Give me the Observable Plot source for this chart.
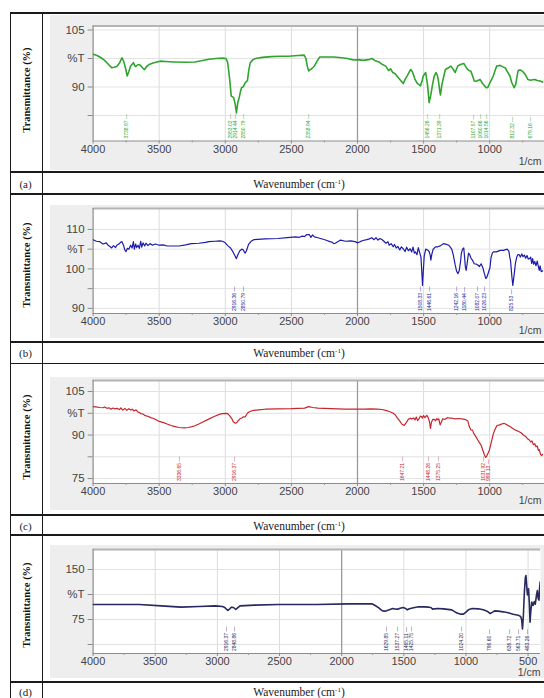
<!DOCTYPE html>
<html><head><meta charset="utf-8">
<script src="https://cdn.jsdelivr.net/npm/d3@7"></script>
<script src="https://cdn.jsdelivr.net/npm/@observablehq/plot@0.6"></script>
<style>
html,body{margin:0;padding:0;background:#fff;width:544px;height:698px;overflow:hidden}
#wrap{position:relative;width:544px;height:698px;overflow:hidden;background:#fff}
.hl{position:absolute;left:10px;width:600px;height:1.3px;background:#1a1a1a}
.vl{position:absolute;top:13px;width:1.3px;height:700px;background:#1a1a1a}
.ylab{position:absolute;left:25.5px;transform:translate(-50%,-50%) rotate(-90deg);white-space:nowrap;font:bold 10.5px "Liberation Serif","Times New Roman",serif;color:#111}
.cap{position:absolute;transform:translate(-50%,-50%);white-space:nowrap;font:11.5px "Liberation Serif","Times New Roman",serif;color:#222}
.cap sup{font-size:7px;vertical-align:4px;line-height:0}
.panel{position:absolute;left:50px}
</style></head>
<body><div id="wrap"></div>
<script>
// ---------- data ----------
const specA = [[4000,98.6],[3970,98.3],[3940,97.7],[3913,97.0],[3885,96.0],[3860,95.1],[3840,95.2],[3821,95.4],[3800,96.3],[3782,97.7],[3769,96.8],[3755,95.0],[3742,92.9],[3730,94.0],[3716,95.5],[3695,96.4],[3685,95.6],[3677,95.4],[3665,95.8],[3650,95.9],[3640,95.6],[3625,95.0],[3611,94.6],[3595,95.4],[3572,96.0],[3540,96.4],[3493,96.8],[3450,96.7],[3388,96.6],[3300,96.5],[3231,96.6],[3180,96.9],[3126,97.3],[3070,97.5],[3021,97.6],[2995,97.5],[2982,96.5],[2968,92.4],[2955,87.6],[2945,87.4],[2937,87.2],[2925,85.5],[2916,83.2],[2905,86.0],[2895,87.2],[2885,88.8],[2877,89.8],[2863,90.1],[2850,91.1],[2840,91.4],[2832,91.8],[2822,94.5],[2811,96.4],[2790,97.2],[2771,97.5],[2720,97.8],[2653,98.0],[2580,98.1],[2522,98.1],[2450,98.3],[2403,98.4],[2390,97.5],[2380,95.5],[2369,94.2],[2358,94.6],[2350,94.7],[2335,95.2],[2324,95.6],[2306,96.8],[2285,97.9],[2230,97.9],[2180,97.9],[2120,97.7],[2075,97.5],[2040,97.2],[2022,97.1],[1990,97.2],[1960,97.0],[1917,97.2],[1891,97.5],[1870,97.0],[1838,96.6],[1815,96.0],[1786,95.5],[1765,94.3],[1750,94.8],[1733,93.8],[1715,93.5],[1694,92.6],[1675,91.8],[1654,90.9],[1640,92.0],[1623,93.0],[1605,94.2],[1597,94.6],[1585,94.0],[1576,93.2],[1565,92.0],[1550,91.1],[1535,90.6],[1524,90.3],[1512,91.5],[1503,92.9],[1484,93.8],[1470,90.5],[1458,85.9],[1445,88.0],[1432,90.7],[1420,92.8],[1406,93.8],[1395,93.0],[1387,91.5],[1378,89.0],[1372,87.9],[1362,90.5],[1353,91.9],[1343,93.5],[1335,94.6],[1315,95.0],[1293,95.5],[1275,94.6],[1261,93.8],[1250,94.8],[1240,95.6],[1215,96.0],[1196,96.2],[1180,95.3],[1169,94.7],[1155,94.3],[1143,94.2],[1130,93.0],[1117,91.6],[1105,91.5],[1099,91.6],[1085,91.8],[1073,92.0],[1055,91.0],[1039,90.3],[1026,89.8],[1014,89.9],[1000,91.0],[985,92.0],[973,92.9],[960,94.3],[947,95.5],[935,95.6],[921,95.7],[900,95.3],[881,95.0],[865,94.0],[847,92.9],[833,91.2],[815,89.8],[803,90.7],[792,93.0],[784,94.4],[770,94.5],[750,94.1],[730,93.2],[711,92.0],[690,91.8],[673,91.9],[658,92.0],[640,91.7],[619,91.6],[600,91.3]];
const peaksA = [3738.97,2953.02,2914.44,2850.79,2358.94,1456.26,1371.39,1107.57,1060.66,1014.56,812.32,679.16];

const specB = [[4000,107.4],[3975,107.0],[3950,106.9],[3925,106.3],[3900,106.6],[3887,106.0],[3870,105.6],[3860,105.3],[3845,105.9],[3830,105.4],[3821,106.0],[3805,106.3],[3790,106.8],[3782,106.9],[3770,106.0],[3760,104.8],[3751,104.4],[3740,105.2],[3730,105.0],[3716,106.0],[3705,105.3],[3695,106.9],[3688,105.0],[3678,106.3],[3670,105.4],[3660,106.0],[3650,105.2],[3640,107.0],[3632,105.5],[3622,106.6],[3610,105.8],[3600,106.5],[3585,105.9],[3570,106.4],[3550,106.0],[3530,106.3],[3500,106.0],[3470,106.1],[3440,105.8],[3400,105.8],[3350,105.8],[3300,106.1],[3257,106.4],[3200,106.5],[3150,106.7],[3126,106.9],[3080,107.0],[3040,107.1],[3021,107.0],[3000,106.6],[2982,105.9],[2960,105.3],[2942,104.3],[2930,103.5],[2916,102.6],[2905,103.6],[2890,104.6],[2875,105.0],[2863,104.8],[2855,104.2],[2850,104.0],[2840,104.6],[2824,106.2],[2805,107.0],[2785,107.4],[2700,107.6],[2601,107.7],[2530,107.9],[2470,108.1],[2440,108.0],[2418,108.3],[2400,108.2],[2385,108.7],[2365,108.7],[2352,108.0],[2340,108.6],[2326,108.1],[2300,107.9],[2260,107.5],[2230,107.2],[2210,106.9],[2194,106.8],[2180,106.4],[2168,106.5],[2150,106.9],[2128,107.3],[2090,107.0],[2049,107.1],[2020,106.9],[1997,106.6],[1980,106.9],[1958,107.2],[1930,107.4],[1910,107.6],[1892,107.9],[1875,107.4],[1860,107.9],[1845,107.3],[1830,107.7],[1813,107.4],[1800,107.0],[1785,106.5],[1770,106.9],[1760,106.0],[1745,106.4],[1730,105.6],[1720,106.2],[1707,105.3],[1695,105.7],[1680,104.8],[1668,105.6],[1654,105.1],[1640,104.4],[1628,105.5],[1615,104.6],[1602,105.1],[1590,104.3],[1580,105.5],[1570,104.0],[1562,104.3],[1550,103.6],[1540,105.4],[1530,104.2],[1520,103.0],[1513,99.0],[1508,95.8],[1502,99.5],[1495,103.3],[1484,105.0],[1470,104.8],[1458,104.4],[1450,103.5],[1445,102.2],[1438,103.6],[1428,105.0],[1424,105.1],[1410,105.6],[1392,105.6],[1370,105.9],[1350,106.4],[1327,106.2],[1310,106.0],[1300,105.6],[1287,105.0],[1275,103.5],[1261,101.0],[1250,99.4],[1240,98.8],[1230,99.6],[1220,102.0],[1214,104.0],[1205,105.0],[1196,105.3],[1190,103.0],[1184,100.5],[1178,99.6],[1170,101.5],[1160,104.0],[1151,103.6],[1140,102.6],[1130,102.2],[1117,101.3],[1100,101.2],[1090,101.0],[1077,100.6],[1065,101.3],[1051,100.2],[1040,98.8],[1030,97.6],[1024,97.7],[1015,98.5],[1005,99.6],[998,100.3],[990,102.8],[980,104.0],[972,104.3],[950,104.3],[920,104.7],[895,104.7],[868,105.0],[855,104.5],[848,103.0],[842,102.0],[832,98.0],[825,95.8],[815,98.5],[805,101.5],[795,103.0],[787,103.6],[777,103.6],[768,103.0],[757,103.8],[748,103.1],[738,103.5],[728,102.7],[718,103.4],[708,102.5],[698,102.6],[690,103.0],[682,101.4],[675,102.6],[668,101.2],[659,101.9],[650,100.8],[640,102.0],[632,100.6],[625,99.6],[619,100.8],[610,99.3],[600,99.5]];
const peaksB = [2916.36,2850.79,1508.33,1446.61,1242.16,1180.44,1082.07,1026.23,825.53];

const specC = [[4000,99.8],[3980,99.7],[3950,99.5],[3925,99.4],[3913,99.7],[3895,99.2],[3880,99.4],[3865,98.9],[3850,99.3],[3835,99.0],[3820,99.2],[3800,98.8],[3790,99.4],[3775,98.6],[3760,99.2],[3745,98.5],[3730,99.1],[3715,98.6],[3703,98.9],[3690,98.3],[3675,98.7],[3660,97.9],[3651,97.8],[3640,97.4],[3625,97.3],[3610,96.8],[3598,96.6],[3580,96.4],[3565,96.0],[3546,95.8],[3520,95.2],[3500,94.7],[3467,94.3],[3440,93.8],[3410,93.3],[3388,93.0],[3350,92.6],[3310,92.5],[3280,92.6],[3250,92.9],[3231,93.2],[3200,93.8],[3170,94.5],[3126,95.5],[3080,96.5],[3040,97.2],[3021,97.4],[2995,97.5],[2982,97.4],[2965,96.5],[2950,95.6],[2940,94.6],[2925,94.1],[2916,94.2],[2905,94.8],[2890,95.6],[2875,95.9],[2863,96.3],[2850,96.2],[2840,97.0],[2832,97.6],[2810,98.2],[2785,98.5],[2750,98.7],[2700,98.9],[2601,99.0],[2500,99.1],[2400,99.3],[2370,99.8],[2339,99.5],[2300,99.3],[2200,99.1],[2100,98.9],[2000,98.9],[1944,98.9],[1900,99.0],[1850,98.9],[1813,98.8],[1780,98.4],[1760,98.1],[1733,97.6],[1715,97.0],[1700,96.0],[1681,94.9],[1665,93.8],[1647,93.3],[1635,94.0],[1616,95.4],[1600,95.8],[1590,95.5],[1576,95.9],[1565,95.2],[1555,96.2],[1545,95.0],[1536,95.5],[1525,96.5],[1515,96.4],[1510,95.8],[1500,96.7],[1490,96.0],[1476,96.8],[1465,96.0],[1455,94.5],[1448,92.3],[1440,94.5],[1430,95.4],[1419,95.4],[1410,94.9],[1400,95.7],[1392,95.2],[1385,95.6],[1375,93.5],[1366,94.4],[1355,95.6],[1340,95.4],[1320,96.0],[1300,95.8],[1287,95.8],[1260,95.6],[1230,95.7],[1200,95.5],[1182,95.3],[1165,94.8],[1155,93.0],[1143,91.8],[1130,91.7],[1120,90.5],[1109,89.8],[1090,88.3],[1075,87.2],[1064,86.4],[1050,84.5],[1040,83.2],[1031,82.3],[1024,82.6],[1015,83.5],[1005,84.5],[998,85.6],[985,88.0],[972,90.5],[959,92.0],[945,93.3],[930,93.4],[920,93.6],[905,93.9],[890,94.0],[880,93.8],[868,93.5],[850,93.0],[830,92.4],[816,92.0],[800,91.6],[780,91.2],[763,90.8],[745,90.0],[730,89.6],[711,88.6],[700,88.3],[690,87.6],[680,88.0],[670,86.7],[659,87.0],[650,86.0],[640,86.2],[632,84.7],[625,85.0],[615,83.3],[606,82.9],[600,83.3]];
const peaksC = [3336.65,2916.37,1647.21,1448.26,1375.25,1031.92,999.13];

const specD = [[4000,97.5],[3800,97.5],[3628,97.5],[3450,95.5],[3293,93.5],[3150,94.5],[3014,95.5],[2960,94.5],[2944,93.5],[2916,88.5],[2900,91],[2888,93.5],[2870,93],[2852,90],[2840,92],[2818,95.5],[2700,96.5],[2511,97.5],[2200,97.5],[1952,98.5],[1800,98.5],[1757,98.5],[1730,96],[1701,92.5],[1680,89],[1659,87.5],[1640,88],[1617,89.5],[1589,91.5],[1560,90.5],[1547,90.5],[1530,92],[1505,93],[1485,91.5],[1472,89.5],[1455,91],[1422,92.5],[1380,94],[1338,94],[1300,93.5],[1282,93],[1268,90.5],[1255,91],[1226,91.5],[1180,91],[1114,89.5],[1085,86],[1060,84],[1040,83],[1020,83],[1000,86],[980,89.5],[950,91.5],[900,91],[860,89.5],[830,87.5],[805,84],[785,86],[770,88],[740,87.5],[700,86.5],[660,85],[620,83],[580,81.5],[560,79.5],[552,75],[545,61],[538,80],[530,115],[522,138],[517,141],[512,128],[505,112],[500,113.5],[496,121],[490,100],[484,71],[478,88],[470,101],[460,96],[450,102],[442,98],[432,112],[425,118.5],[418,106],[412,104],[408,120],[403,131],[400,128]];
const peaksD = [2916.37,2848.86,1629.85,1537.27,1465.11,1425.75,1024.20,796.60,636.72,563.71,493.26];

const xMajor = [4000,3500,3000,2500,2000,1500,1000,500];
const xMinor = [3750,3250,2750,2250,1750,1250,750];
const gridX = [3500,3000,2500,1500,1000,500];
const yTicksA = [105,97.5,90,82.5], yLabA = ["105","%T","90",""];
const yTicksB = [110,105,100,95,90], yLabB = ["110","%T","100","","90"];
const yTicksC = [105,97.5,90,82.5,75], yLabC = ["105","%T","90","","75"];
const yTicksD = [150,112.5,75,37.5], yLabD = ["150","%T","75",""];
const panelTags = ["(a)","(b)","(c)","(d)"];
const yTitle = "Transmittance (%)";

// ---------- layout ----------
const wrap = document.getElementById("wrap");
function el(cls, css, html) { const d = document.createElement("div"); d.className = cls; Object.assign(d.style, css); if (html) d.innerHTML = html; wrap.appendChild(d); return d; }

const panels = [
  {spec:specA, peaks:peaksA, color:"#2fa52f", sw:1.6, yT:yTicksA, yL:yLabA, yDom:[75.8,106.05], grayTop:14.5, grayBottom:170, frameTop:25, frameBottom:140, width:530, frameRight:568.5, xT:xMajor.slice(0,7), cmDx:-27.5, cmDy:24, titleY:90, capY:184},
  {spec:specB, peaks:peaksB, color:"#1c1ca8", sw:1.2, yT:yTicksB, yL:yLabB, yDom:[88.7,115.3], grayTop:205, grayBottom:338, frameTop:208, frameBottom:313, width:530, frameRight:568.5, xT:xMajor.slice(0,7), cmDx:-27.5, cmDy:20, titleY:265, capY:353},
  {spec:specC, peaks:peaksC, color:"#c4262e", sw:1.2, yT:yTicksC, yL:yLabC, yDom:[73.3,108.8], grayTop:377, grayBottom:510, frameTop:380, frameBottom:483, width:530, frameRight:568.5, xT:xMajor.slice(0,7), cmDx:-27.5, cmDy:20, titleY:436.5, capY:525.5},
  {spec:specD, peaks:peaksD, color:"#28295f", sw:1.6, yT:yTicksD, yL:yLabD, yDom:[24,180], grayTop:545, grayBottom:678, frameTop:549, frameBottom:653, width:494, frameRight:540, xT:xMajor, cmDx:0, cmDy:22.5, titleY:605, capY:692}
];

panels.forEach((p, k) => {
  const H = p.grayBottom - p.grayTop;
  const mt = p.frameTop - p.grayTop, mb = p.grayBottom - p.frameBottom;
  const mr = 50 + p.width - p.frameRight;
  const rows = p.spec.map(([w, t]) => ({w, t}));
  const labMap = new Map(p.yT.map((v, i) => [v, p.yL[i]]));
  const chart = Plot.plot({
    width: p.width, height: H,
    marginLeft: 42.6, marginRight: mr, marginTop: mt, marginBottom: mb,
    x: {domain: [4000, 400]},
    y: {domain: p.yDom},
    style: {background: "#eeeeee", fontFamily: "'Liberation Sans', Arial, sans-serif", color: "#444", overflow: "visible"},
    marks: [
      Plot.frame({fill: "white", stroke: null}),
      Plot.ruleX(gridX, {stroke: "#dcdcdc", strokeWidth: 1}),
      Plot.ruleY(p.yT, {stroke: "#e2e2e2", strokeWidth: 1}),
      Plot.ruleX([2000], {stroke: "#9a9a9a", strokeWidth: 1.3}),
      Plot.ruleY([p.yDom[1]], {stroke: "#b4b4b4", strokeWidth: 2}),
      Plot.ruleX([4000], {stroke: "#8c8c8c", strokeWidth: 1.2}),
      Plot.ruleY([p.yDom[0]], {stroke: "#8c8c8c", strokeWidth: 1.2}),
      Plot.line(rows, {x: "w", y: "t", stroke: p.color, strokeWidth: p.sw, clip: true}),
      Plot.text(p.peaks, {x: d => d, frameAnchor: "bottom", dy: -2.5, rotate: -90, textAnchor: "start", text: d => d.toFixed(2) + " —", fontSize: 5, fill: p.color}),
      Plot.axisY(p.yT, {tickSize: 5, tickPadding: 3.5, fontSize: 11.5, stroke: "#8c8c8c", fill: "#444", label: null, tickFormat: d => labMap.get(d)}),
      Plot.axisX(p.xT, {tickSize: 3, tickPadding: 1, fontSize: 11, stroke: "#8c8c8c", fill: "#444", label: null, tickFormat: d => String(d)}),
      Plot.axisX(xMinor, {tickSize: 2, tickFormat: () => "", stroke: "#999", label: null}),
      Plot.text(["1/cm"], {text: d => d, frameAnchor: "bottom-right", dx: p.cmDx, dy: p.cmDy, textAnchor: "end", fontSize: 10.5, fill: "#444"})
    ]
  });
  const holder = el("panel", {top: p.grayTop + "px", width: p.width + "px", height: H + "px"});
  holder.appendChild(chart);
  el("ylab", {top: p.titleY + "px"}, yTitle);
  el("cap", {left: "25.5px", top: p.capY + "px", fontSize: "11px"}, panelTags[k]);
  el("cap", {left: "299px", top: p.capY + "px"}, "Wavenumber (cm<sup>-1</sup>)");
});

// table rules
[13, 172, 194, 342, 363.5, 515, 535, 682].forEach(y => el("hl", {top: (y - 0.6) + "px"}));
[10.5, 42.5].forEach(x => el("vl", {left: (x - 0.6) + "px"}));
</script>
</body></html>
